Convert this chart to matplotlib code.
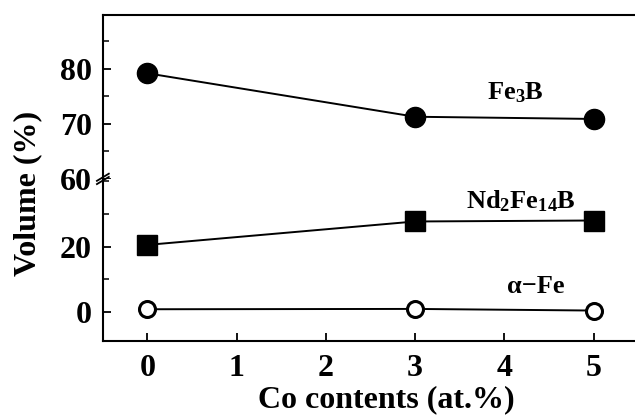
import matplotlib
matplotlib.use('Agg')
import matplotlib.pyplot as plt
from matplotlib.ticker import MultipleLocator

# ─── DATA ────────────────────────────────────────────────────────────────
co = [0, 3, 5]
fe3b = [79.2, 71.3, 70.9]
nd2fe14b = [20.5, 27.7, 28.0]
alpha_fe = [0.7, 0.8, 0.3]
x_ticks = [0, 1, 2, 3, 4, 5]

plt.rcParams['font.family'] = ['Liberation Serif', 'DejaVu Serif']
plt.rcParams['font.weight'] = 'bold'
plt.rcParams['mathtext.fontset'] = 'custom'
plt.rcParams['mathtext.rm'] = 'Liberation Serif:bold'
plt.rcParams['mathtext.it'] = 'Liberation Serif:bold'
plt.rcParams['mathtext.bf'] = 'Liberation Serif:bold'

fig = plt.figure(figsize=(6.35, 4.17), dpi=100)
L, W = 0.162, 0.85
ax_top = fig.add_axes([L, 0.571, W, 0.393])
ax_bot = fig.add_axes([L, 0.182, W, 0.389], sharex=ax_top)

lw = 1.4
ax_top.plot(co, fe3b, '-', color='black', lw=lw, marker='o', ms=14.5, mfc='black', mec='black')
ax_bot.plot(co, nd2fe14b, '-', color='black', lw=lw, marker='s', ms=14.5, mfc='black', mec='black')
ax_bot.plot(co, alpha_fe, '-', color='black', lw=lw, marker='o', ms=11.5, mfc='white', mec='black', mew=2.2)

ax_top.set_ylim(60, 89.8)
ax_bot.set_ylim(-9.1, 40.8)
ax_top.set_xlim(-0.5, 5.55)

ax_top.set_yticks([60, 70, 80])
ax_top.yaxis.set_minor_locator(MultipleLocator(5))
ax_bot.set_yticks([0, 20])
ax_bot.yaxis.set_minor_locator(MultipleLocator(10))
ax_bot.set_xticks(x_ticks)

for ax in (ax_top, ax_bot):
    ax.spines['right'].set_visible(False)
    for sp in ax.spines.values():
        sp.set_linewidth(1.5)
    ax.tick_params(direction='in', length=6, width=1.3, labelsize=23, pad=8)
    ax.tick_params(which='minor', direction='in', length=4, width=1.1)
    for lab in ax.get_xticklabels() + ax.get_yticklabels():
        lab.set_fontweight('bold')

ax_top.spines['bottom'].set_visible(False)
ax_bot.spines['top'].set_visible(False)
ax_top.tick_params(axis='x', which='both', bottom=False, labelbottom=False)
ax_bot.tick_params(axis='x', pad=9)

# break marks on the left spine
for dy in (-0.01, 0.01):
    ax_bot.plot([-0.011, 0.011], [1.0 + dy - 0.022, 1.0 + dy + 0.022], transform=ax_bot.transAxes,
                color='black', lw=1.3, clip_on=False)

ax_top.text(4.12, 75.6, 'Fe$_3$B', fontsize=19, fontweight='bold', ha='center', va='center')
ax_bot.text(4.19, 33.9, 'Nd$_2$Fe$_{14}$B', fontsize=19, fontweight='bold', ha='center', va='center')
ax_bot.text(4.35, 7.6, 'α−Fe', fontsize=19, fontweight='bold', ha='center', va='center')

fig.text(0.044, 0.537, 'Volume (%)', rotation=90, fontsize=23, fontweight='bold',
         ha='center', va='center')
fig.text(0.608, 0.042, 'Co contents (at.%)', fontsize=23, fontweight='bold',
         ha='center', va='center')

plt.savefig('out.png', dpi=100)
plt.close()
